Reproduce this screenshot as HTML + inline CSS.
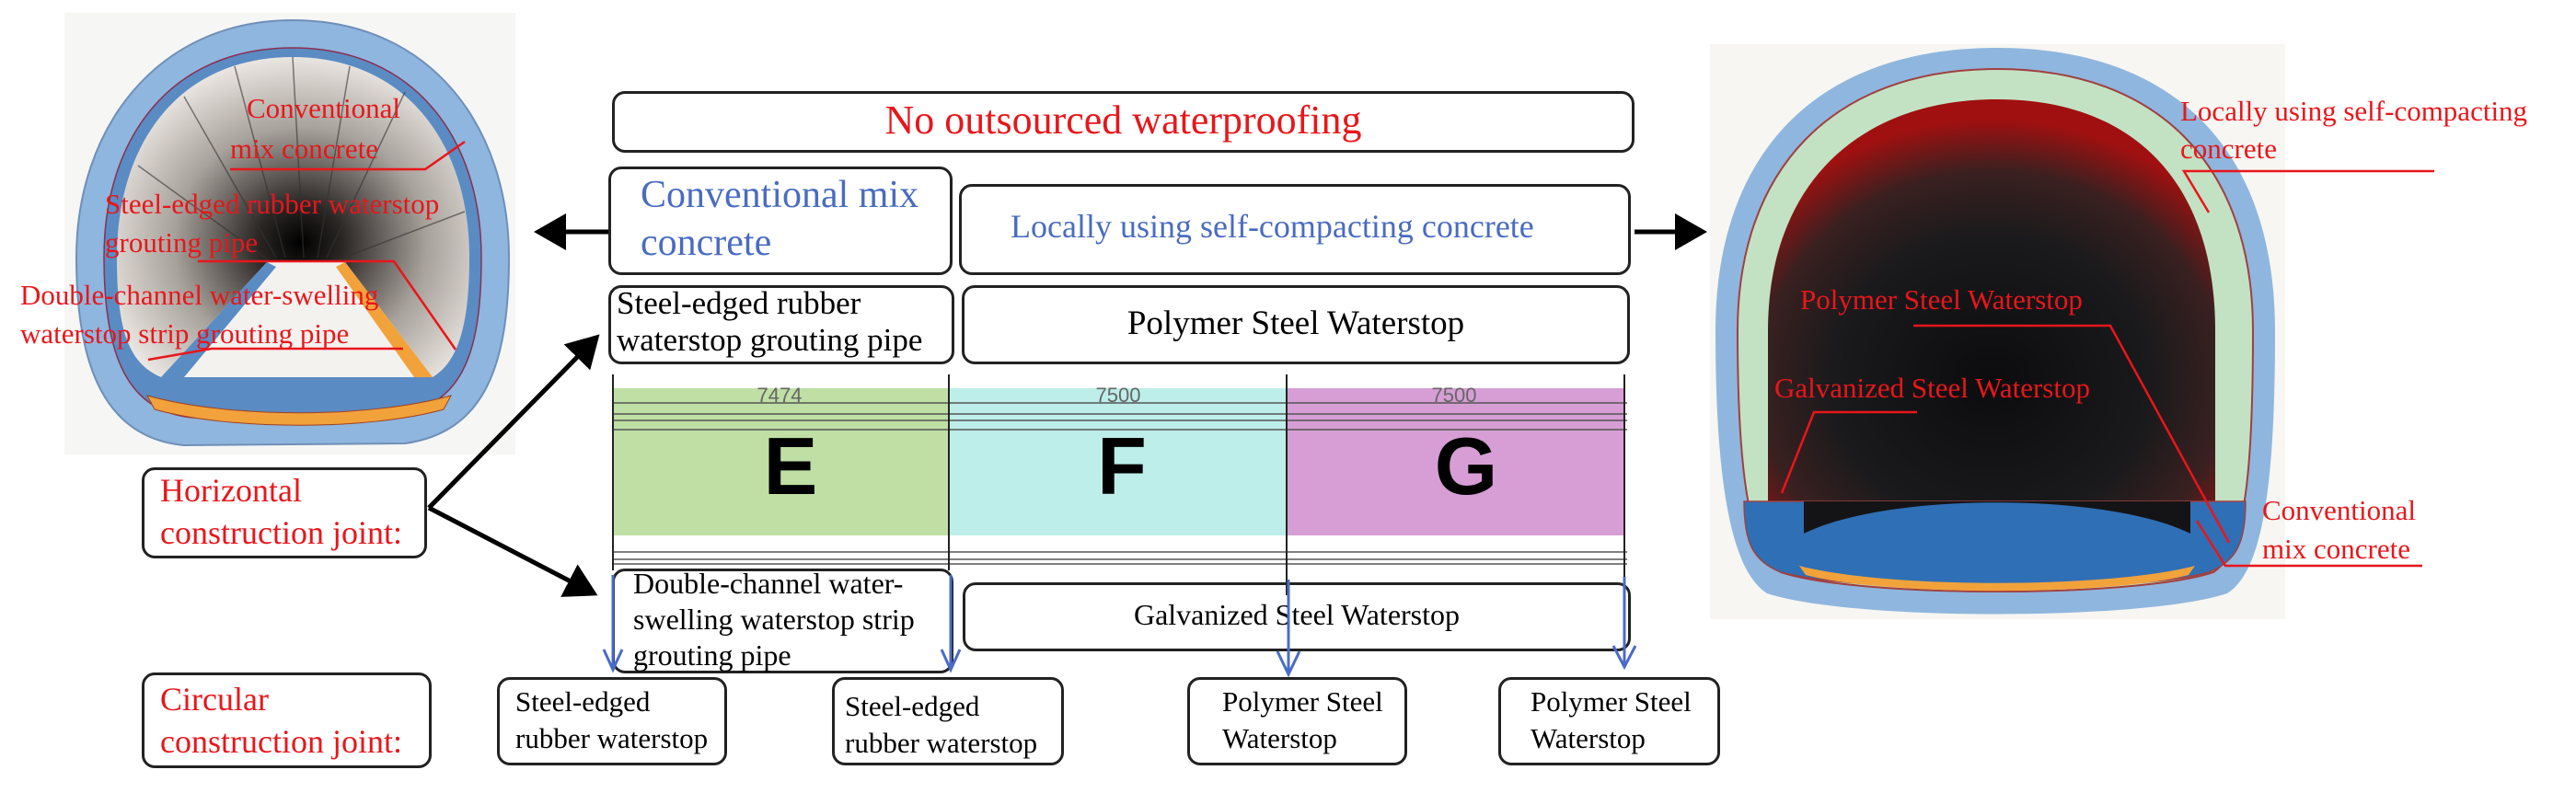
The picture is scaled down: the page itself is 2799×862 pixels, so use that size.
<!DOCTYPE html>
<html><head><meta charset="utf-8"><style>
body{margin:0;background:#fff;}
#c{position:relative;width:2799px;height:862px;overflow:hidden;background:#fff;font-family:"Liberation Serif",serif;}
.b{position:absolute;border:3px solid #222;border-radius:14px;box-sizing:border-box;background:#fff;}
.t{position:absolute;white-space:nowrap;line-height:1.15;font-family:"Liberation Serif","DejaVu Serif",serif;}
.r{color:#e8161b;}
.bl{color:#4a6cc0;}
</style></head><body><div id="c">
<svg width="2799" height="862" style="position:absolute;left:0;top:0">
<defs>
<radialGradient id="lg" cx="0.52" cy="0.58" r="0.6"><stop offset="0" stop-color="#000"/><stop offset="0.2" stop-color="#2a2624"/><stop offset="0.6" stop-color="#a8a29c"/><stop offset="1" stop-color="#efebe6"/></radialGradient>
<radialGradient id="rg" cx="0.5" cy="0.7" r="0.65"><stop offset="0" stop-color="#0c0c0e"/><stop offset="0.55" stop-color="#1a1a1c"/><stop offset="0.8" stop-color="#3a2020"/><stop offset="1" stop-color="#a01010"/></radialGradient>
<marker id="ah" markerWidth="8" markerHeight="8" refX="6" refY="4" orient="auto" markerUnits="strokeWidth"><path d="M0,0 L7,4 L0,8 z" fill="#000"/></marker>
</defs>
<!-- left tunnel -->
<rect x="70" y="14" width="490" height="480" fill="#f6f6f5"/>
<path d="M318 22 C470 22 553 140 553 280 C553 400 525 470 440 482 L200 484 C115 476 83 400 83 280 C83 140 170 22 318 22 Z" fill="#8fb6de" stroke="#6f8fb8" stroke-width="2"/>
<path d="M318 52 C450 52 523 150 523 280 C523 390 500 440 430 452 L210 454 C140 448 113 390 113 280 C113 150 185 52 318 52 Z" fill="#5a8bc3" stroke="#8a3050" stroke-width="1.5"/>
<path d="M318 62 C440 62 510 155 510 280 C510 360 495 395 470 410 L175 410 C140 395 127 360 127 280 C127 155 195 62 318 62 Z" fill="url(#lg)"/>
<g stroke="#333" stroke-width="1.5" fill="none" opacity="0.6">
<line x1="318" y1="62" x2="330" y2="280"/><line x1="255" y1="72" x2="310" y2="280"/><line x1="380" y1="72" x2="345" y2="280"/><line x1="200" y1="105" x2="300" y2="280"/><line x1="440" y1="100" x2="355" y2="280"/><line x1="150" y1="180" x2="295" y2="285"/><line x1="505" y1="230" x2="360" y2="285"/>
</g>
<path d="M290 285 L175 410 L470 410 L375 285 Z" fill="#f4f2ef"/>
<path d="M375 285 L470 410 L450 410 L365 290 Z" fill="#f2a23a"/>
<path d="M290 285 L175 410 L200 410 L300 290 Z" fill="#5a8bc3"/>
<path d="M160 430 C250 455 400 455 490 430 L482 445 C400 468 250 468 168 445 Z" fill="#f2a23a" stroke="#a04020" stroke-width="1"/>
<g stroke="#e8161b" stroke-width="2.5" fill="none">
<polyline points="250,184 462,184 505,154"/>
<polyline points="215,284 428,284 495,380"/>
<polyline points="161,391 230,379 438,379"/>
</g>
<!-- right tunnel -->
<rect x="1858" y="48" width="625" height="625" fill="#f7f6f2"/>
<path d="M2170 52 C2370 52 2472 170 2472 360 C2472 520 2460 620 2420 645 C2330 675 2010 675 1920 645 C1880 620 1864 520 1864 360 C1864 170 1970 52 2170 52 Z" fill="#8fb6de"/>
<path d="M2170 75 C2350 75 2448 185 2448 360 C2448 510 2440 600 2405 622 C2320 650 2020 650 1935 622 C1900 600 1888 510 1888 360 C1888 185 1990 75 2170 75 Z" fill="#c3e2c3" stroke="#a04040" stroke-width="2"/>
<path d="M2170 108 C2320 108 2407 200 2407 360 L2407 545 L1921 545 L1921 360 C1921 200 2020 108 2170 108 Z" fill="url(#rg)"/>
<path d="M1895 545 L2440 545 C2440 590 2430 610 2400 622 C2320 645 2020 645 1935 622 C1905 610 1895 590 1895 545 Z" fill="#2f6fb5" stroke="#a04040" stroke-width="1.5"/>
<path d="M1960 580 C2050 535 2290 535 2380 580 L2380 545 L1960 545 Z" fill="#141416"/>
<path d="M1955 615 C2050 640 2290 640 2385 615 L2378 625 C2290 648 2050 648 1962 625 Z" fill="#f2a23a"/>
<g stroke="#e8161b" stroke-width="2.5" fill="none">
<polyline points="2645,186 2373,186 2400,231"/>
<polyline points="2079,354 2293,354 2422,590"/>
<polyline points="2083,448 1971,448 1936,536"/>
<polyline points="2632,615 2418,615 2387,566"/>
</g>
<!-- bands -->
<rect x="666" y="422" width="365" height="160" fill="#bfdfa4"/>
<rect x="1031" y="422" width="367" height="160" fill="#bdeee9"/>
<rect x="1398" y="422" width="367" height="160" fill="#d69ed4"/>
<g stroke="#555" stroke-width="1.5">
<line x1="666" y1="438" x2="1768" y2="438"/><line x1="666" y1="450" x2="1768" y2="450"/><line x1="666" y1="457" x2="1768" y2="457"/><line x1="666" y1="467" x2="1768" y2="467"/>
<line x1="666" y1="600" x2="1768" y2="600"/><line x1="666" y1="608" x2="1768" y2="608"/><line x1="666" y1="613" x2="1768" y2="613"/>
</g>
<g stroke="#222" stroke-width="2">
<line x1="666" y1="407" x2="666" y2="620"/><line x1="1031" y1="407" x2="1031" y2="620"/><line x1="1398" y1="407" x2="1398" y2="647"/><line x1="1765" y1="407" x2="1765" y2="627"/>
</g>
<g font-family="Liberation Sans,sans-serif" font-size="22" fill="#666" text-anchor="middle">
<text x="847" y="437">7474</text><text x="1215" y="437">7500</text><text x="1580" y="437">7500</text></g>
<g font-family="Liberation Sans,sans-serif" font-size="88" font-weight="bold" fill="#000" text-anchor="middle">
<text x="859" y="537">E</text><text x="1219" y="537">F</text><text x="1593" y="537">G</text></g>
<!-- black arrows -->
<g stroke="#000" fill="none">
<line x1="661" y1="252" x2="585" y2="252" marker-end="url(#ah)" stroke-width="5"/>
<line x1="1776" y1="252" x2="1850" y2="252" marker-end="url(#ah)" stroke-width="5"/>
<line x1="466" y1="552" x2="648" y2="367" marker-end="url(#ah)" stroke-width="5"/>
<line x1="466" y1="552" x2="645" y2="645" marker-end="url(#ah)" stroke-width="5"/>
</g>
</svg>
<div class="b" style="left:665px;top:99px;width:1111px;height:67px"></div>
<div class="t r" style="left:665px;top:106px;width:1111px;text-align:center;font-size:44px">No outsourced waterproofing</div>
<div class="b" style="left:661px;top:181px;width:374px;height:118px"></div>
<div class="t bl" style="left:696px;top:186px;font-size:42px;line-height:52px">Conventional mix<br>concrete</div>
<div class="b" style="left:1042px;top:200px;width:730px;height:99px"></div>
<div class="t bl" style="left:1098px;top:226px;font-size:36px">Locally using self-compacting concrete</div>
<div class="b" style="left:661px;top:310px;width:376px;height:86px"></div>
<div class="t" style="left:670px;top:310px;font-size:35px;line-height:40px">Steel-edged rubber<br>waterstop grouting pipe</div>
<div class="b" style="left:1045px;top:310px;width:726px;height:86px"></div>
<div class="t" style="left:1045px;top:331px;width:726px;text-align:center;font-size:37px">Polymer Steel Waterstop</div>
<div class="b" style="left:665px;top:618px;width:371px;height:114px;background:transparent"></div>
<div class="t" style="left:688px;top:615px;font-size:32px;line-height:39px">Double-channel water-<br>swelling waterstop strip<br>grouting pipe</div>
<div class="b" style="left:1046px;top:633px;width:726px;height:75px;background:transparent"></div>
<div class="t" style="left:1046px;top:650px;width:726px;text-align:center;font-size:32px">Galvanized Steel Waterstop</div>
<div class="b" style="left:154px;top:508px;width:310px;height:99px"></div>
<div class="t r" style="left:174px;top:510px;font-size:36px;line-height:46px">Horizontal<br>construction joint:</div>
<div class="b" style="left:154px;top:731px;width:315px;height:104px"></div>
<div class="t r" style="left:174px;top:737px;font-size:36px;line-height:46px">Circular<br>construction joint:</div>
<div class="b" style="left:540px;top:736px;width:250px;height:96px"></div>
<div class="t" style="left:560px;top:743px;font-size:31px;line-height:40px">Steel-edged<br>rubber waterstop</div>
<div class="b" style="left:904px;top:736px;width:252px;height:96px"></div>
<div class="t" style="left:918px;top:748px;font-size:31px;line-height:40px">Steel-edged<br>rubber waterstop</div>
<div class="b" style="left:1290px;top:736px;width:239px;height:96px"></div>
<div class="t" style="left:1328px;top:743px;font-size:31px;line-height:40px">Polymer Steel<br>Waterstop</div>
<div class="b" style="left:1628px;top:736px;width:241px;height:96px"></div>
<div class="t" style="left:1663px;top:743px;font-size:31px;line-height:40px">Polymer Steel<br>Waterstop</div>
<svg width="2799" height="862" style="position:absolute;left:0;top:0">
<g stroke="#4a6cc8" stroke-width="3" fill="none">
<line x1="666" y1="625" x2="666" y2="728"/><polyline points="656,706 666,728 676,706"/>
<line x1="1033" y1="625" x2="1033" y2="728"/><polyline points="1023,706 1033,728 1043,706"/>
<line x1="1400" y1="630" x2="1400" y2="733"/><polyline points="1388,708 1400,733 1412,708"/>
<line x1="1765" y1="627" x2="1765" y2="725"/><polyline points="1753,702 1765,725 1777,702"/>
</g>
<g font-family="Liberation Serif,serif" fill="#e8161b" font-size="31">
<text x="268" y="128">Conventional</text><text x="250" y="172">mix concrete</text>
<text x="114" y="232">Steel-edged rubber waterstop</text><text x="114" y="274">grouting pipe</text>
<text x="22" y="331">Double-channel water-swelling</text><text x="22" y="373">waterstop strip grouting pipe</text>
<text x="2369" y="131">Locally using self-compacting</text><text x="2369" y="172">concrete</text>
<text x="1956" y="336">Polymer Steel Waterstop</text>
<text x="1928" y="432">Galvanized Steel Waterstop</text>
<text x="2458" y="565">Conventional</text><text x="2458" y="607">mix concrete</text>
</g>
</svg>
</div></body></html>
